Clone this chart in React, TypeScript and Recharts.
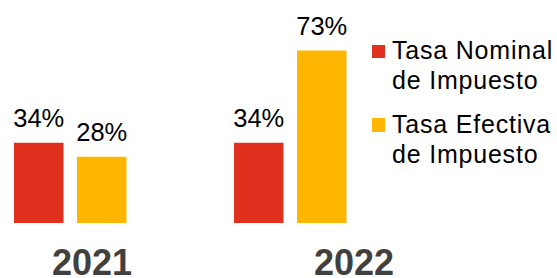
import React from 'react';
import { BarChart, Bar, XAxis, YAxis, LabelList, Legend } from 'recharts';

const years = ['2021', '2022'];
const nominal = [34, 34];
const efectiva = [28, 73];
const seriesNames = ['Tasa Nominal de Impuesto', 'Tasa Efectiva de Impuesto'];

const data = years.map((y, i) => ({ year: y, nominal: nominal[i], efectiva: efectiva[i] }));

const RED = '#E0301E';
const YELLOW = '#FFB600';
const FONT = '"Liberation Sans", Arial, Helvetica, sans-serif';
const yearLabelShift = [22, 64];

const YearTick = (props: any) => {
  const { x, y, payload, index } = props;
  return (
    <text
      x={x}
      y={y}
      dx={yearLabelShift[index] ?? 0}
      dy={52}
      textAnchor="middle"
      fontFamily={FONT}
      fontWeight="bold"
      fontSize={36}
      fill="#404040"
    >
      {payload.value}
    </text>
  );
};

const renderLegend = (props: any) => {
  const items = [...(props.payload || [])].sort(
    (a: any, b: any) => seriesNames.indexOf(a.value) - seriesNames.indexOf(b.value)
  );
  return (
    <div style={{ fontFamily: FONT, fontSize: 25, lineHeight: '30px', letterSpacing: 0.8, color: '#000' }}>
      {items.map((entry: any, i: number) => (
        <div key={i} style={{ display: 'flex', alignItems: 'flex-start', marginBottom: 13.3 }}>
          <div
            style={{
              width: 13.3,
              height: 13.3,
              background: entry.color,
              marginTop: 9.65,
              marginRight: 7,
              flex: 'none',
            }}
          />
          <div style={{ width: 172 }}>{entry.value}</div>
        </div>
      ))}
    </div>
  );
};

const labelFmt = (v: any) => `${v}%`;

export default function App() {
  return (
    <div style={{ position: 'absolute', left: 0, top: 0, width: 557, height: 278, background: '#fff' }}>
      <BarChart
        width={557}
        height={278}
        data={data}
        margin={{ top: 34, right: 157, bottom: 0, left: -40 }}
        barSize={49.5}
        barGap={13.5}
      >
        <XAxis
          dataKey="year"
          axisLine={false}
          tickLine={false}
          tickSize={0}
          tickMargin={0}
          height={55}
          interval={0}
          tick={YearTick}
        />
        <YAxis hide domain={[0, 80]} />
        <Legend
          layout="vertical"
          align="center"
          verticalAlign="middle"
          itemSorter={null as any}
          content={renderLegend}
          wrapperStyle={{ left: 371.7, top: 35.35, width: 186 }}
        />
        <Bar dataKey="nominal" name={seriesNames[0]} fill={RED} isAnimationActive={false}>
          <LabelList
            dataKey="nominal"
            position="top"
            offset={16}
            formatter={labelFmt}
            fill="#000"
            fontSize={25.5}
            fontFamily={FONT}
          />
        </Bar>
        <Bar dataKey="efectiva" name={seriesNames[1]} fill={YELLOW} isAnimationActive={false}>
          <LabelList
            dataKey="efectiva"
            position="top"
            offset={16}
            formatter={labelFmt}
            fill="#000"
            fontSize={25.5}
            fontFamily={FONT}
          />
        </Bar>
      </BarChart>
    </div>
  );
}
